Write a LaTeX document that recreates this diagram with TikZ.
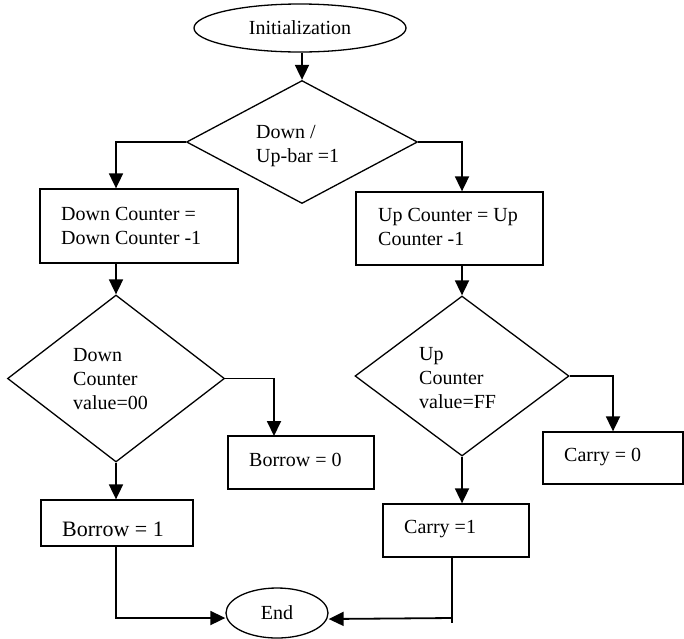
\documentclass[tikz,border=0pt]{standalone}
\usepackage{fontspec}
\setmainfont{Liberation Serif}
\usetikzlibrary{shapes.geometric,arrows.meta}
\begin{document}
\begin{tikzpicture}[x=1pt,y=-1pt,
  shp/.style={draw, line width=1.3pt, inner sep=0pt, font=\fontsize{20}{24}\selectfont},
  lbl/.style={anchor=north west, align=left, inner sep=0pt, font=\fontsize{20}{24}\selectfont},
  conn/.style={line width=1.8pt},
  arr/.style={conn, -{Triangle[length=15pt,width=14pt]}}
]
\useasboundingbox (0,0) rectangle (684,638);

% shapes
\node[shp, ellipse, minimum width=212pt, minimum height=48pt] (init) at (300,28) {Initialization};
\node[shp, diamond, minimum width=231pt, minimum height=123pt] (d1) at (302,142) {};
\node[lbl] (d1t) at (256,125) {Down /\\Up-bar =1};

\node[shp, rectangle, minimum width=198pt, minimum height=74pt] (b1) at (139,226) {};
\node[lbl] (b1t) at (61,207) {Down Counter =\\Down Counter -1};

\node[shp, diamond, minimum width=217pt, minimum height=167pt] (d2) at (116,378.5) {};
\node[lbl] (d2t) at (73,348) {Down\\Counter\\value=00};

\node[shp, rectangle, minimum width=146pt, minimum height=53pt] (b0) at (301,462.5) {};
\node[lbl] (b0t) at (249,453) {Borrow = 0};

\node[shp, rectangle, minimum width=152pt, minimum height=46pt] (bb1) at (117,523) {};
\begin{scope}
  \clip (42,501) rectangle (192,537);
  \node[lbl, font=\fontsize{22}{26}\selectfont] (bb1t) at (62,522) {Borrow = 1};
\end{scope}

\node[shp, rectangle, minimum width=187pt, minimum height=73pt] (ur) at (449.5,228.5) {};
\node[lbl] (urt) at (378,208) {Up Counter = Up\\Counter -1};

\node[shp, diamond, minimum width=214pt, minimum height=160pt] (d3) at (462,376) {};
\node[lbl] (d3t) at (419,347) {Up\\Counter\\value=FF};

\node[shp, rectangle, minimum width=140pt, minimum height=52pt] (c0) at (613,458) {};
\node[lbl] (c0t) at (564,448) {Carry = 0};

\node[shp, rectangle, minimum width=146pt, minimum height=53pt] (c1) at (456,530.5) {};
\node[lbl] (c1t) at (404,520) {Carry =1};

\node[shp, ellipse, minimum width=102pt, minimum height=50pt] (end) at (277,613) {End};

% connectors
\draw[arr] (init.south -| d1.north) -- (d1.north);
\draw[arr] (d1.west) -| (d2.north |- b1.north);
\draw[arr] (d1.east) -| (d3.north |- ur.north);
\draw[arr] (d2.north |- b1.south) -- (d2.north);
\draw[arr] (d3.north |- ur.south) -- (d3.north);
\coordinate (b0in) at (274,436);
\draw[arr] (d2.east) -| (b0in);
\draw[arr] (d3.east) -| (c0.north);
\draw[arr] (d2.south) -- (d2.south |- bb1.north);
\draw[arr] (d3.south) -- (d3.south |- c1.north);
\draw[arr] (bb1.south -| d2.south) |- ([yshift=-5pt]end.west);
\coordinate (rj) at (452,618);
\draw[conn] (c1.south -| rj) -- ([yshift=-5pt]rj);
\draw[arr] (rj) -- ([yshift=-6pt]end.east);
\end{tikzpicture}
\end{document}
